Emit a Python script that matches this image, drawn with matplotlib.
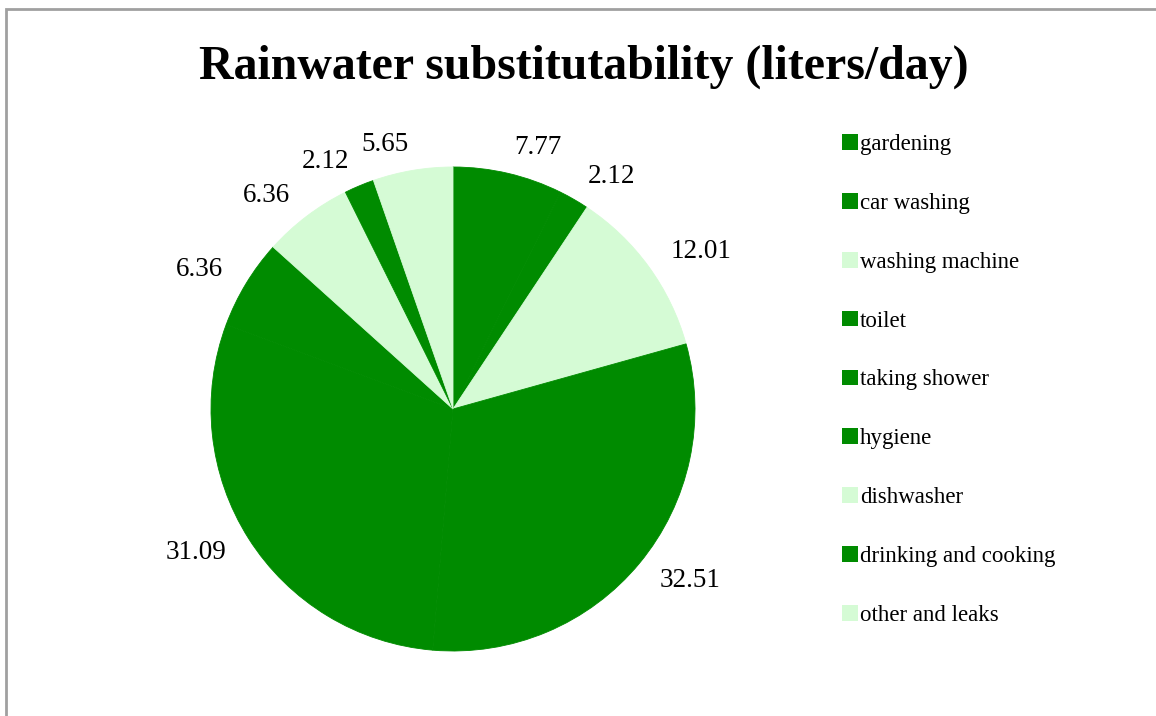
import matplotlib
matplotlib.use("Agg")
import matplotlib.pyplot as plt
from matplotlib.patches import Patch, Rectangle

# Rainwater substitutability per use (liters/day)
categories = ["gardening", "car washing", "washing machine", "toilet",
              "taking shower", "hygiene", "dishwasher",
              "drinking and cooking", "other and leaks"]
liters = [7.77, 2.12, 12.01, 32.51, 31.09, 6.36, 6.36, 2.12, 5.65]
substitutable = [True, True, False, True, True, True, False, True, False]

DARK = "#008B00"
LIGHT = "#D5FBD5"
colors = [DARK if s else LIGHT for s in substitutable]

W, H = 1156, 716
fig = plt.figure(figsize=(W / 100, H / 100), dpi=100)
plt.rcParams["font.family"] = ["Liberation Serif", "DejaVu Serif"]

# chart area border (cut by the image on the right and bottom)
fig.patches.append(Rectangle((6 / W, -0.1), 1.2, (707 / H) + 0.1,
                             transform=fig.transFigure, fill=False,
                             edgecolor="#A0A0A0", linewidth=2))

# pie centre (453, 409) px, radius 242 px
cx, cy, r = 453, H - 409, 242
ax = fig.add_axes([(cx - r) / W, (cy - r) / H, 2 * r / W, 2 * r / H])
wedges, texts = ax.pie(liters, labels=[f"{v:.2f}" for v in liters],
                       colors=colors, startangle=90, counterclock=False,
                       labeldistance=1.11,
                       textprops={"fontsize": 19.5, "color": "black"})
# hide the hairline seams between same-coloured wedges
for w, c in zip(wedges, colors):
    w.set_edgecolor(c)
    w.set_linewidth(0.6)
ax.set_xlim(-1, 1)
ax.set_ylim(-1, 1)
ax.set_aspect("equal")
ax.axis("off")

fig.text(584 / W, 1 - 67 / H, "Rainwater substitutability (liters/day)",
         ha="center", va="center", fontsize=34.5, fontweight="bold")

handles = [Patch(facecolor=c, edgecolor="none") for c in colors]
fig.legend(handles, categories, loc="upper left",
           bbox_to_anchor=(833 / W, 1 - 125 / H), frameon=False,
           fontsize=16.5, handlelength=0.68, handleheight=0.68,
           handletextpad=0.1, labelspacing=1.65, borderaxespad=0)

fig.savefig("out.png", dpi=100)
